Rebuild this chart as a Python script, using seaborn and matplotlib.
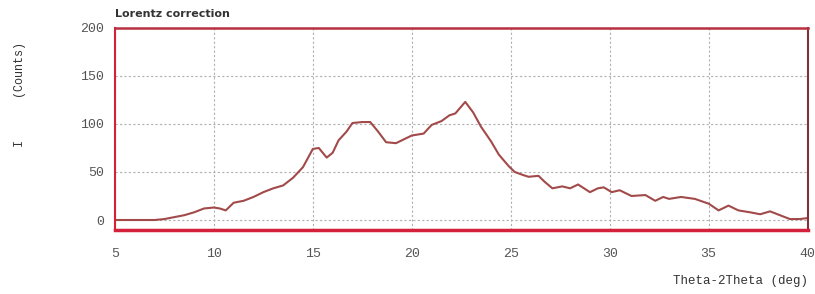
import matplotlib
matplotlib.use("Agg")
import matplotlib.pyplot as plt
import seaborn as sns
import pandas as pd
from matplotlib.ticker import MultipleLocator

# values
two_theta = [5, 6, 7, 7.5, 8, 8.5, 9, 9.5, 10, 10.3, 10.6, 11, 11.5, 12, 12.5,
             13, 13.5, 14, 14.5, 15, 15.3, 15.7, 16, 16.3, 16.7, 17, 17.5, 17.9,
             18.3, 18.7, 19.2, 19.6, 20, 20.6, 21, 21.5, 21.9, 22.2, 22.7, 23.1,
             23.5, 24, 24.4, 24.9, 25.2, 25.6, 25.9, 26.4, 26.7, 27.1, 27.6, 28,
             28.4, 29, 29.4, 29.7, 30.1, 30.5, 31.1, 31.8, 32.3, 32.7, 33, 33.6,
             34.3, 35, 35.5, 36, 36.5, 37.1, 37.6, 38.1, 38.6, 39.1, 39.6, 40]
counts = [0, 0, 0, 1, 3, 5, 8, 12, 13, 12, 10, 18, 20, 24, 29,
          33, 36, 44, 55, 74, 75, 65, 70, 83, 92, 101, 102, 102,
          92, 81, 80, 84, 88, 90, 99, 103, 109, 111, 123, 112,
          97, 82, 68, 56, 50, 47, 45, 46, 40, 33, 35, 33,
          37, 29, 33, 34, 29, 31, 25, 26, 20, 24, 22, 24,
          22, 17, 10, 15, 10, 8, 6, 9, 5, 1, 1, 2]
x_ticks = [5, 10, 15, 20, 25, 30, 35, 40]
y_ticks = [0, 50, 100, 150, 200]

df = pd.DataFrame({"two_theta": two_theta, "counts": counts})

sns.set_style("white")
mono = ["Liberation Mono", "DejaVu Sans Mono"]

fig = plt.figure(figsize=(8.15, 2.94), dpi=100)
ax = fig.add_axes([0.141, 0.219, 0.850, 0.686])

sns.lineplot(data=df, x="two_theta", y="counts", color="#a24a4a", linewidth=1.5, ax=ax)

ax.set_xlim(5, 40)
ax.set_ylim(-10, 200)
ax.set_xticks(x_ticks)
ax.set_yticks(y_ticks)
ax.xaxis.set_minor_locator(MultipleLocator(0.5))
ax.yaxis.set_minor_locator(MultipleLocator(10))
ax.set_xlabel("")
ax.set_ylabel("")

ax.grid(True, which="major", linestyle=(0, (2, 2)), color="#b0b0b0", linewidth=0.8)

ax.spines["left"].set_color("#d4203a")
ax.spines["left"].set_linewidth(1.5)
ax.spines["bottom"].set_color("#d4203a")
ax.spines["bottom"].set_linewidth(2.5)
ax.spines["top"].set_color("#b83040")
ax.spines["top"].set_linewidth(1.8)
ax.spines["right"].set_color("#803038")
ax.spines["right"].set_linewidth(1.5)

ax.tick_params(axis="x", which="major", direction="out", length=9, width=1,
               color="#555555", labelsize=9.5, pad=4)
ax.tick_params(axis="x", which="minor", direction="out", length=4, width=1,
               color="#d4203a")
ax.tick_params(axis="y", which="major", direction="out", length=6, width=1,
               color="#555555", labelsize=9.5, pad=2)
ax.tick_params(axis="y", which="minor", direction="out", length=3, width=1,
               color="#555555")
for lab in ax.get_xticklabels() + ax.get_yticklabels():
    lab.set_family(mono)
    lab.set_color("#555555")

fig.text(0.141, 0.935, "Lorentz correction", ha="left", va="bottom",
         fontsize=8, fontweight="bold", color="#333333",
         family=["Liberation Sans Narrow", "DejaVu Sans"])
fig.text(0.025, 0.68, "I      (Counts)", rotation=90, ha="center", va="center",
         fontsize=8.5, color="#333333", family=mono)
fig.text(0.991, 0.045, "Theta-2Theta (deg)", ha="right", va="center",
         fontsize=9, color="#333333", family=mono)

fig.savefig("out.png", dpi=100)
